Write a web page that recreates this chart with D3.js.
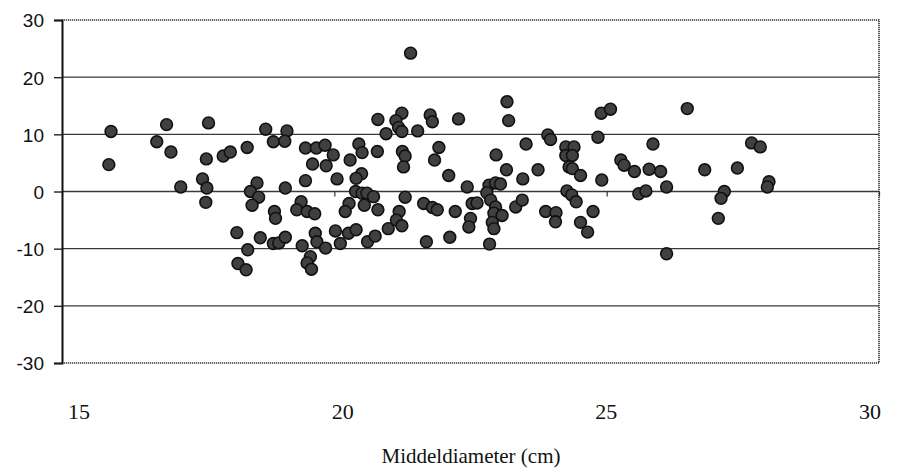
<!DOCTYPE html>
<html>
<head>
<meta charset="utf-8">
<script src="https://cdn.jsdelivr.net/npm/d3@7"></script>
<style>
  html, body { margin: 0; padding: 0; background: #fff; }
  svg { display: block; }
</style>
</head>
<body>
<script>
// scatter: middeldiameter vs. residual
const W = 901, H = 473;

const xDomain = [15, 30];
const yDomain = [-30, 30];
const yTicks = [-30, -20, -10, 0, 10, 20, 30];
const xTicks = [15, 20, 25, 30];
const xTitle = "Middeldiameter (cm)";

// points (diameter, deviation)
const diam = [
  15.90, 15.86, 16.74, 16.92, 17.00, 17.18, 17.69, 17.65, 17.58, 17.66,
  17.64, 17.96, 18.09, 18.40, 18.21, 18.41, 18.23, 18.38, 18.58, 18.46,
  18.61, 18.49, 18.64, 18.74, 18.88, 18.90, 18.92, 18.88, 18.98, 19.10,
  19.13, 19.09, 19.10, 19.39, 19.31, 19.50, 19.64, 19.41, 19.65, 19.68,
  19.84, 19.56, 19.50, 19.58, 19.47, 19.47, 19.67, 19.83, 19.98, 19.60,
  19.85, 20.05, 20.29, 20.45, 20.51, 20.79, 20.50, 20.40, 20.39, 20.51,
  20.60, 20.72, 20.27, 20.20, 20.55, 20.80, 20.80, 20.95, 20.02, 20.11,
  20.26, 20.40, 20.61, 20.75, 20.99, 21.19, 21.14, 21.24, 21.30, 21.24,
  21.13, 21.18, 21.24, 21.40, 21.53, 21.76, 21.80, 22.28, 21.92, 21.84,
  21.25, 21.30, 21.27, 22.10, 22.97, 23.16, 23.52, 23.74, 23.46, 22.44,
  22.84, 22.96, 23.05, 22.80, 22.87, 22.96, 22.93, 23.08, 22.90, 22.93,
  22.85, 22.53, 22.62, 22.50, 22.47, 22.22, 21.64, 21.80, 21.89, 21.69,
  22.12, 23.33, 23.45, 23.88, 24.07, 24.06, 23.17, 23.20, 23.92, 23.97,
  24.90, 25.07, 26.48, 24.84, 24.25, 24.40, 24.25, 24.37, 24.31, 24.37,
  24.52, 24.91, 25.26, 25.32, 25.51, 25.85, 25.78, 25.99, 26.80, 26.10,
  25.59, 25.72, 24.27, 24.36, 24.44, 24.75, 24.52, 24.65, 26.10, 27.66,
  27.82, 27.40, 27.98, 27.95, 27.16, 27.10, 27.05
];
const dev = [
  10.5, 4.7, 8.7, 11.7, 6.9, 0.8, 12.0, 5.7, 2.2, 0.6,
  -1.9, 6.2, 6.9, 7.7, -7.2, -10.2, -12.6, -13.7, 1.5, 0.0,
  -1.0, -2.4, -8.1, 10.9, 8.7, -3.5, -4.7, -9.1, -9.0, -8.0,
  10.6, 8.8, 0.6, -1.8, -3.2, -3.5, -3.9, -9.5, -7.3, -8.8,
  -9.9, -11.4, -12.5, -13.6, 1.9, 7.6, 7.6, 8.1, 6.4, 4.8,
  4.5, 2.2, 5.5, 8.3, 6.8, 7.0, 3.1, 2.3, 0.0, -0.3,
  -0.3, -0.9, -2.1, -3.5, -2.4, -3.2, 12.6, 10.1, -6.9, -9.1,
  -7.3, -6.7, -8.8, -7.8, -6.5, -3.5, -5.0, -6.0, -1.0, 13.7,
  12.4, 11.2, 10.5, 24.2, 10.6, 13.4, 12.2, 12.7, 7.7, 5.5,
  7.0, 6.2, 4.3, 2.8, 6.4, 3.8, 8.3, 3.8, 2.2, 0.8,
  1.1, 1.5, 1.3, -0.2, -1.5, -2.7, -3.8, -4.2, -5.4, -6.5,
  -9.2, -2.1, -2.0, -4.7, -6.2, -3.5, -2.1, -2.8, -3.2, -8.8,
  -8.0, -2.7, -1.5, -3.5, -3.7, -5.3, 15.7, 12.4, 9.9, 9.1,
  13.7, 14.4, 14.5, 9.5, 7.8, 7.8, 6.3, 6.3, 4.3, 4.0,
  2.8, 2.0, 5.5, 4.6, 3.5, 8.3, 3.9, 3.5, 3.8, 0.8,
  -0.4, 0.1, 0.1, -0.6, -1.8, -3.5, -5.4, -7.1, -10.9, 8.5,
  7.8, 4.1, 1.7, 0.8, 0.0, -1.2, -4.7
];

const points = diam.map((d, i) => ({ x: d, y: dev[i] }));

// ── Layout ─────────────────────────────────────────────────────────────────
const plot = { left: 62, right: 879, top: 20, bottom: 363 };

const x = d3.scaleLinear().domain(xDomain).range([plot.left, plot.right]);
const y = d3.scaleLinear().domain(yDomain).range([plot.bottom, plot.top]);
// the category labels under the chart sit a bit off the tick marks in the scan
const xLabel = d3.scaleLinear().domain(xDomain).range([79, 870]);

const svg = d3.select("body").append("svg")
    .attr("width", W)
    .attr("height", H);

// gridlines
svg.append("g").attr("class", "grid")
  .selectAll("line")
  .data(yTicks.filter(t => t > yDomain[0] && t < yDomain[1]))
  .join("line")
    .attr("x1", plot.left).attr("x2", plot.right)
    .attr("y1", d => y(d)).attr("y2", d => y(d))
    .attr("stroke", "#3a3a3a")
    .attr("stroke-width", 1.4);

// dotted plot border (top, right, bottom)
svg.append("path")
    .attr("d", `M${plot.left},${y(30)}H${plot.right}V${y(-30)}H${plot.left}`)
    .attr("fill", "none")
    .attr("stroke", "#333")
    .attr("stroke-width", 1.6)
    .attr("stroke-dasharray", "1.2,0.8");

// x axis along zero
svg.append("g")
    .attr("transform", `translate(0,${y(0)})`)
    .call(d3.axisBottom(x).tickValues(xTicks).tickSize(5).tickFormat(""))
    .call(g => g.select(".domain").remove())
    .call(g => g.selectAll(".tick line").attr("stroke", "#333").attr("stroke-width", 1.2));

// y axis (plain hyphen for negatives, like the original)
svg.append("g")
    .attr("transform", `translate(${plot.left},0)`)
    .call(d3.axisLeft(y).tickValues(yTicks).tickSize(8).tickPadding(10).tickFormat(d => String(d)))
    .call(g => g.select(".domain").attr("stroke", "#111").attr("stroke-width", 2))
    .call(g => g.selectAll(".tick line").attr("stroke", "#222").attr("stroke-width", 1.4))
    .call(g => g.selectAll(".tick text")
        .attr("font-family", "'Liberation Sans', Arial, sans-serif")
        .attr("font-size", 19)
        .attr("fill", "#111")
        .attr("dy", "0.36em"));

// dots
svg.append("g").attr("class", "dots")
  .selectAll("circle")
  .data(points)
  .join("circle")
    .attr("cx", d => x(d.x))
    .attr("cy", d => y(d.y))
    .attr("r", 5.9)
    .attr("fill", "#404040")
    .attr("stroke", "#111")
    .attr("stroke-width", 1.6);

// x labels (serif, like the typed caption)
svg.append("g")
  .selectAll("text")
  .data(xTicks)
  .join("text")
    .attr("x", d => xLabel(d))
    .attr("y", 419)
    .attr("text-anchor", "middle")
    .attr("font-family", "'Liberation Serif', 'Times New Roman', serif")
    .attr("font-size", 22)
    .attr("fill", "#111")
    .text(d => d);

svg.append("text")
    .attr("x", 471)
    .attr("y", 463)
    .attr("text-anchor", "middle")
    .attr("font-family", "'Liberation Serif', 'Times New Roman', serif")
    .attr("font-size", 21)
    .attr("fill", "#111")
    .text(xTitle);
</script>
</body>
</html>
